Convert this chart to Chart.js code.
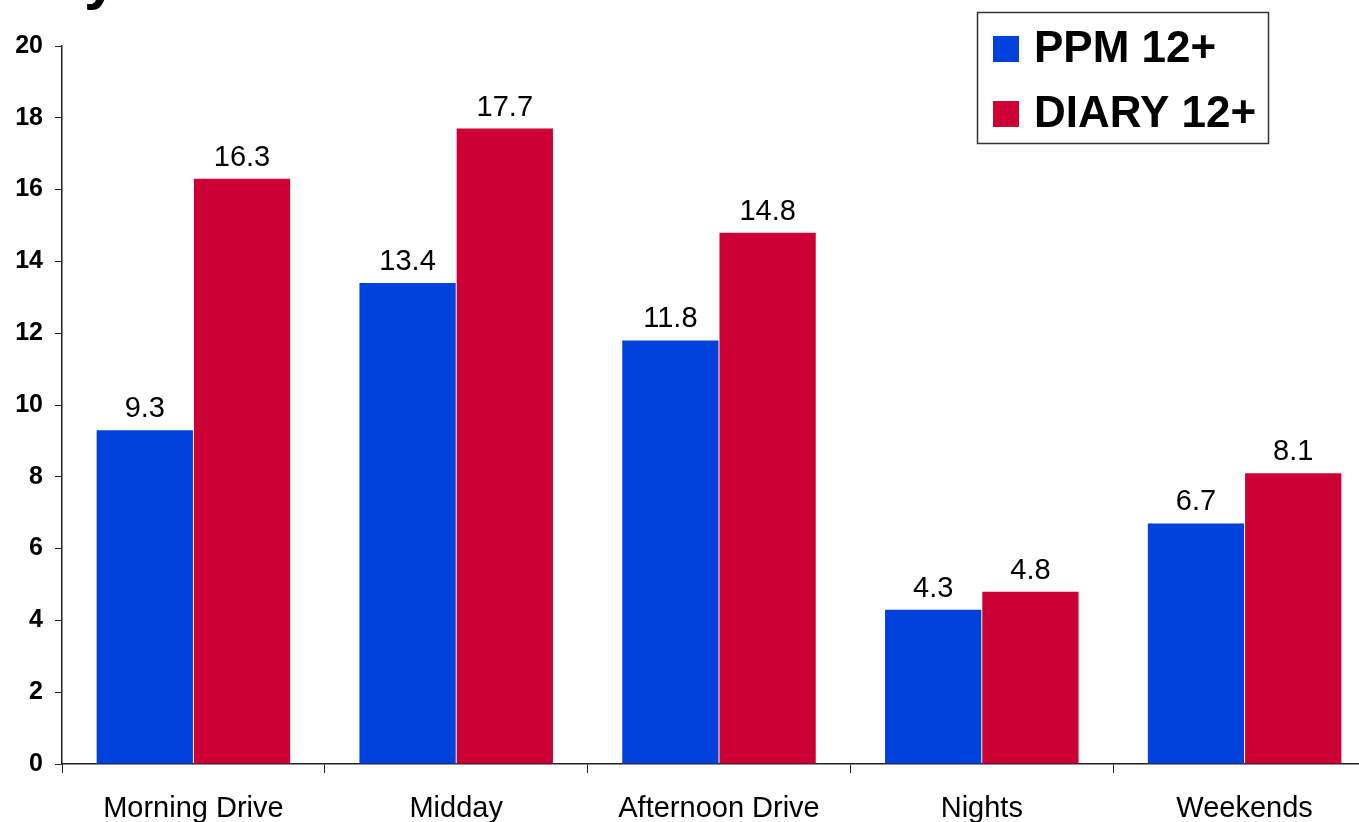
<!DOCTYPE html>
<html>
<head>
<meta charset="utf-8">
<script src="https://cdn.jsdelivr.net/npm/chart.js@4/dist/chart.umd.min.js"></script>
<style>
  html, body { margin: 0; padding: 0; background: #fff; overflow: hidden; }
  #wrap { position: relative; width: 1380px; height: 822px; }
</style>
</head>
<body>
<div id="wrap"><canvas id="daypart" width="1380" height="822"></canvas></div>
<script>
var categories = ["Morning Drive", "Midday", "Afternoon Drive", "Nights", "Weekends"];
var ppmValues = [9.3, 13.4, 11.8, 4.3, 6.7];
var diaryValues = [16.3, 17.7, 14.8, 4.8, 8.1];
var seriesNames = ["PPM 12+", "DIARY 12+"];
var yMax = 20;
var yStep = 2;

var blue = "#0041DB";
var red = "#CC0035";

// value labels above each bar
var barLabels = {
    id: "barLabels",
    afterDatasetsDraw: function (chart) {
        var ctx = chart.ctx;
        ctx.save();
        ctx.font = "29px 'Liberation Sans', Arial, sans-serif";
        ctx.fillStyle = "#000";
        ctx.textAlign = "center";
        ctx.textBaseline = "alphabetic";
        chart.data.datasets.forEach(function (ds, i) {
            chart.getDatasetMeta(i).data.forEach(function (bar, j) {
                ctx.fillText(ds.data[j].toFixed(1), bar.x, bar.y - 13);
            });
        });
        ctx.restore();
    }
};

// boxed legend, top right
var boxLegend = {
    id: "boxLegend",
    afterDraw: function (chart) {
        var ctx = chart.ctx;
        ctx.save();
        ctx.strokeStyle = "#333";
        ctx.lineWidth = 1.5;
        ctx.strokeRect(977.5, 12.5, 291, 131);
        ctx.font = "bold 44px 'Liberation Sans', Arial, sans-serif";
        ctx.textBaseline = "middle";
        chart.data.datasets.forEach(function (ds, i) {
            var y = 49 + i * 65;
            ctx.fillStyle = ds.backgroundColor;
            ctx.fillRect(993, y - 13, 26, 26);
            ctx.fillStyle = "#000";
            ctx.fillText(ds.label, 1034, y + 1);
        });
        // bottom of the cut-off title
        ctx.font = "bold 60px 'Liberation Sans', Arial, sans-serif";
        ctx.textBaseline = "alphabetic";
        ctx.fillText("y", 84, -2);
        ctx.restore();
    }
};

new Chart(document.getElementById("daypart"), {
    type: "bar",
    data: {
        labels: categories,
        datasets: [{
            label: seriesNames[0],
            data: ppmValues,
            backgroundColor: blue,
            borderWidth: 0
        }, {
            label: seriesNames[1],
            data: diaryValues,
            backgroundColor: red,
            borderWidth: 0
        }]
    },
    options: {
        responsive: false,
        animation: false,
        devicePixelRatio: 1,
        layout: { padding: { top: 46, right: 4, left: 0, bottom: 0 } },
        datasets: { bar: { barPercentage: 0.99, categoryPercentage: 0.74 } },
        plugins: {
            legend: { display: false },
            tooltip: { enabled: false }
        },
        scales: {
            x: {
                grid: {
                    offset: true,
                    drawOnChartArea: false,
                    tickLength: 9,
                    color: "#222"
                },
                border: { color: "#222", width: 1.5 },
                ticks: {
                    color: "#000",
                    padding: 19,
                    font: { family: "'Liberation Sans', Arial, sans-serif", size: 29 }
                },
                afterFit: function (scale) { scale.height = 58; }
            },
            y: {
                min: 0,
                max: yMax,
                grid: {
                    drawOnChartArea: false,
                    tickLength: 7,
                    color: "#222"
                },
                border: { color: "#222", width: 1.5 },
                ticks: {
                    stepSize: yStep,
                    autoSkip: false,
                    color: "#000",
                    padding: 12,
                    font: { family: "'Liberation Sans', Arial, sans-serif", size: 25, weight: "bold" }
                },
                afterFit: function (scale) { scale.width = 62; }
            }
        }
    },
    plugins: [barLabels, boxLegend]
});
</script>
</body>
</html>
